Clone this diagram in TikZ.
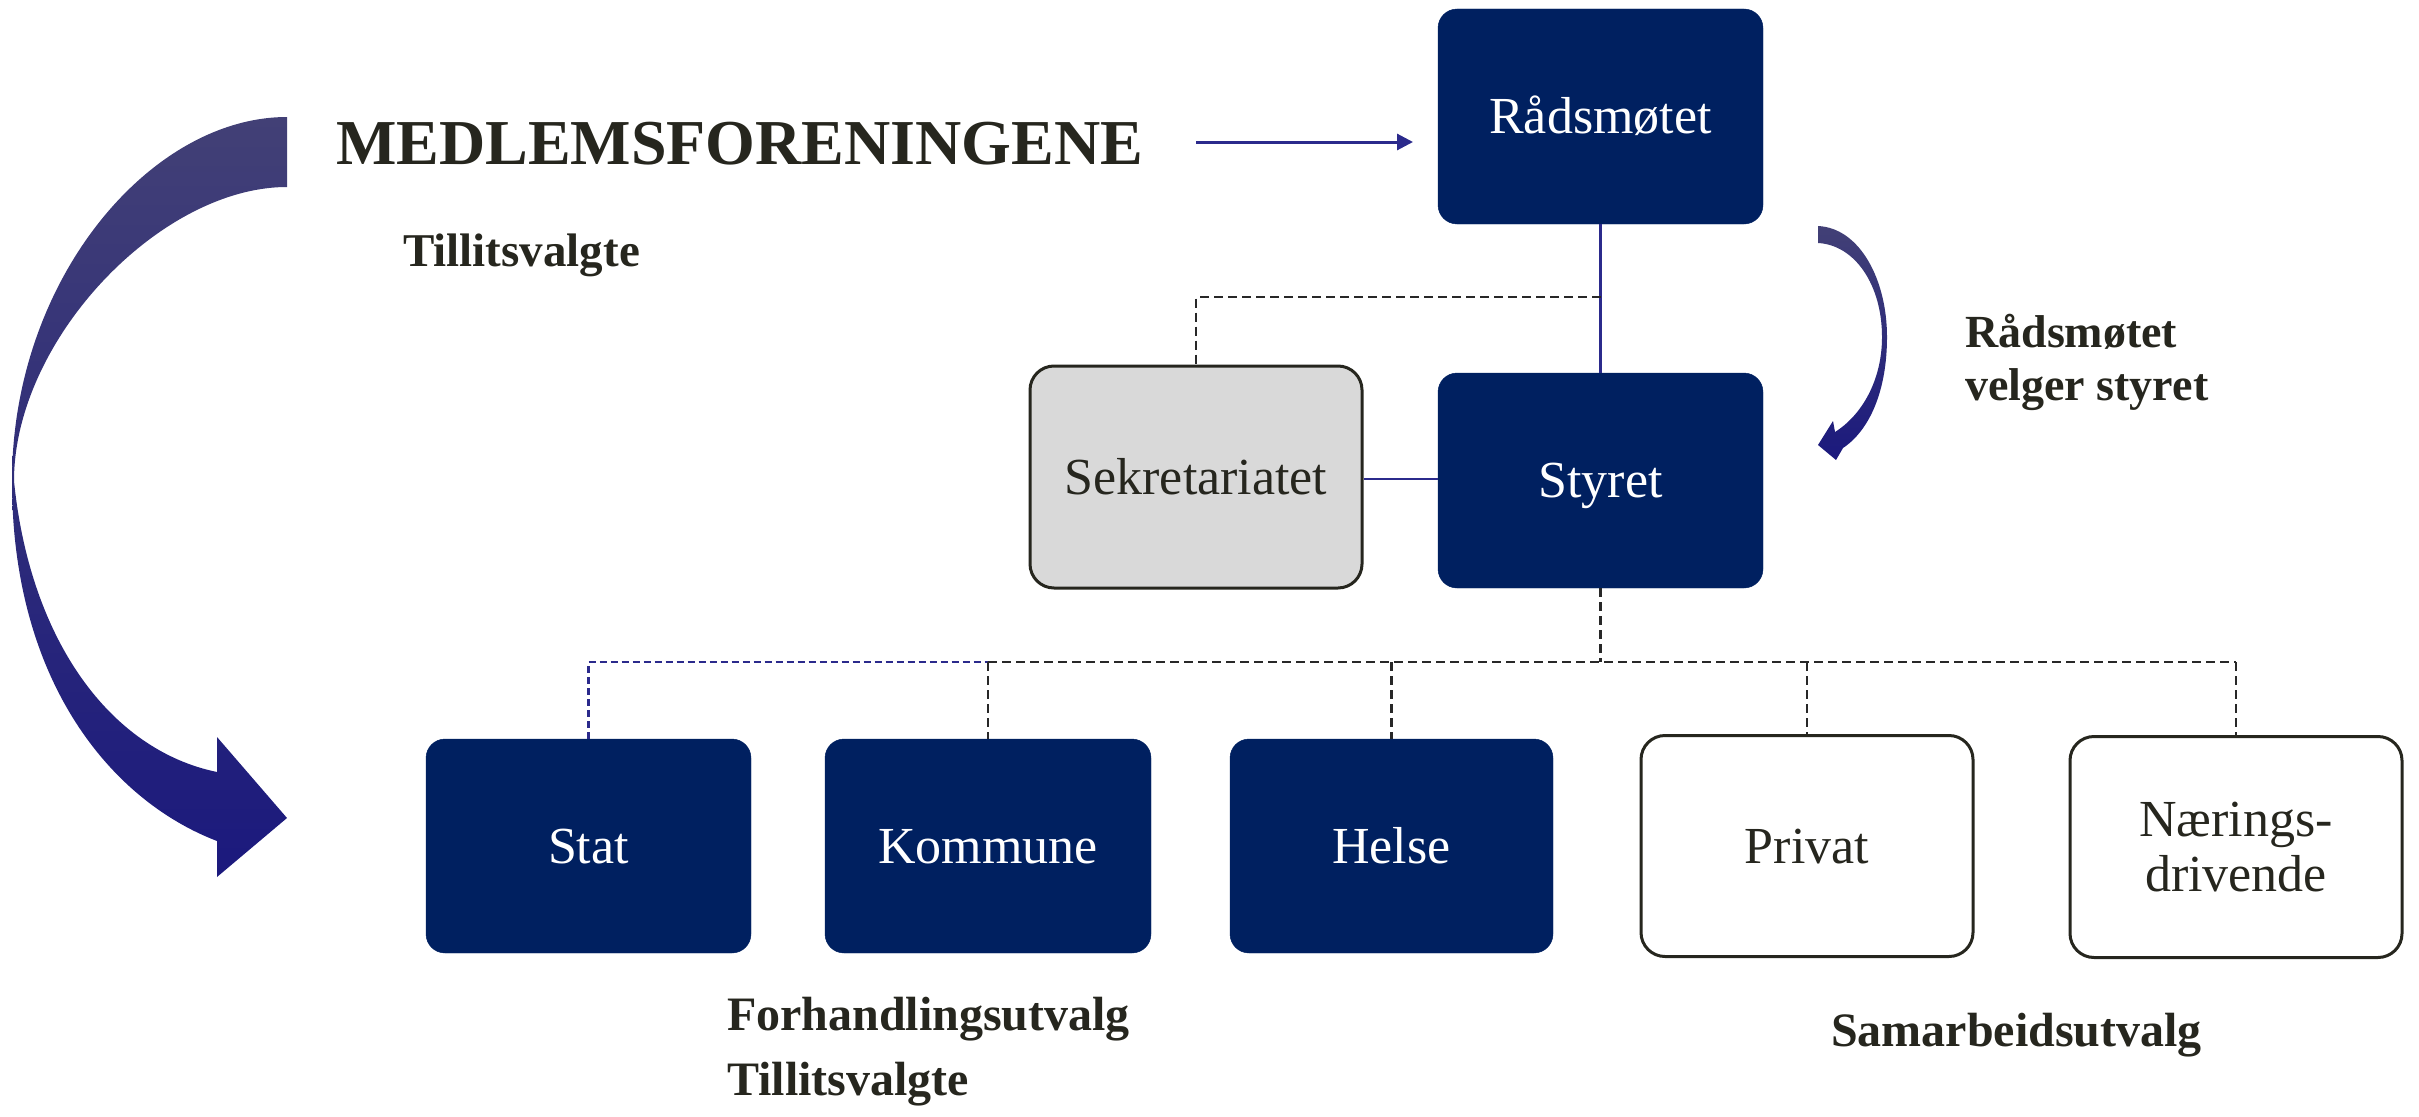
\documentclass[tikz,border=0pt]{standalone}
\usepackage{fontspec}
\setmainfont{Liberation Serif}
\usetikzlibrary{arrows.meta}
\definecolor{navy}{RGB}{0,32,96}
\definecolor{lineblue}{RGB}{43,42,140}
\definecolor{darktext}{RGB}{38,38,30}
\definecolor{darkline}{RGB}{40,40,40}
\definecolor{sekgray}{RGB}{217,217,217}
\definecolor{arrtop}{RGB}{66,64,118}
\definecolor{arrbot}{RGB}{27,25,125}
\tikzset{
  navybox/.style={rectangle, rounded corners=19pt, fill=navy, draw=navy, text=white,
    font=\fontsize{52}{56}\selectfont, text height=34pt, text depth=0pt, inner sep=0pt,
    minimum width=325pt, minimum height=215pt},
  whitebox/.style={rectangle, rounded corners=24pt, fill=white, draw=darktext, line width=3pt,
    text=darktext, font=\fontsize{52}{55}\selectfont, inner sep=0pt,
    minimum width=332pt, minimum height=221pt},
  boldlabel/.style={anchor=base west, inner sep=0pt, text=darktext,
    font=\bfseries\fontsize{47}{54}\selectfont},
  blueline/.style={draw=lineblue, line width=2.2pt},
  darkdash/.style={draw=darkline, line width=2.4pt, dash pattern=on 9pt off 5pt},
  bluedash/.style={draw=lineblue, line width=2.2pt, dash pattern=on 7pt off 4pt},
}
\begin{document}
\begin{tikzpicture}[x=1pt,y=-1pt]
\useasboundingbox (0,0) rectangle (2419,1116);

% big curved arrow (left)
\shade[top color=arrtop, bottom color=arrbot]
  (287,117) .. controls (150,117) and (12,280) .. (12,481)
  .. controls (12,680) and (110,800) .. (217,841)
  -- (217,877) -- (287,818) -- (217,737) -- (217,772)
  .. controls (110,750) and (30,640) .. (14,481)
  .. controls (14,340) and (160,187) .. (287,187) -- cycle;

% small curved arrow (right)
\shade[top color=arrtop, bottom color=arrbot]
  (1818,226) .. controls (1860,228) and (1887,280) .. (1887,337)
  .. controls (1887,390) and (1870,430) .. (1843,448)
  -- (1836,460) -- (1818,445) -- (1833,421) -- (1835,432)
  .. controls (1862,415) and (1882,380) .. (1882,337)
  .. controls (1882,285) and (1855,245) .. (1818,243) -- cycle;

% boxes
\node[navybox] (rad) at (1600.5,116.5) {Rådsmøtet};
\node[navybox] (styret) at (1600.5,480.5) {Styret};
\node[whitebox, fill=sekgray, minimum height=222pt, text height=35pt, text depth=0pt] (sek) at (1196,477) {Sekretariatet};
\node[navybox, minimum height=214pt] (stat) at (588.5,846) {Stat};
\node[navybox, minimum height=214pt, minimum width=326pt] (kommune) at (988,846) {Kommune};
\node[navybox, minimum height=214pt, minimum width=323pt] (helse) at (1391.5,846) {Helse};
\node[whitebox, text height=35pt, text depth=0pt] (privat) at (1807,846) {Privat};
\node[whitebox, align=center] (naering) at (2236,847) {Nærings-\\drivende};

% texts
\node[anchor=base west, inner sep=0pt, text=darktext, font=\bfseries\fontsize{64}{70}\selectfont] (medl) at (336,164) {MEDLEMSFORENINGENE};
\node[boldlabel] (tv1) at (403,266) {Tillitsvalgte};
\node[boldlabel, font=\bfseries\fontsize{46}{52}\selectfont] (rvs1) at (1965,347) {Rådsmøtet};
\node[boldlabel, font=\bfseries\fontsize{46}{52}\selectfont] (rvs2) at (1965,400) {velger styret};
\node[boldlabel, font=\bfseries\fontsize{48}{54}\selectfont] (forh) at (727,1030) {Forhandlingsutvalg};
\node[boldlabel, font=\bfseries\fontsize{48}{54}\selectfont] (tv2) at (727,1095) {Tillitsvalgte};
\node[boldlabel, font=\bfseries\fontsize{48}{54}\selectfont] (samb) at (1831,1046) {Samarbeidsutvalg};

% top arrow
\coordinate (a0) at (1196,142);
\coordinate (a1) at (1413,142);
\draw[blueline, line width=3pt, -{Triangle[length=16pt,width=16pt]}] (a0) -- (a1);

% connectors
\draw[blueline] (rad.south) -- (styret.north);
\coordinate (j1) at (1600.5,297);
\draw[darkdash] (j1) -| (sek.north);
\coordinate (s1) at (1362,479);
\draw[blueline] (sek.east |- s1) -- (styret.west |- s1);
\coordinate (j2) at (1600.5,662);
\draw[darkdash] (styret.south) -- (j2);
\coordinate (hk) at (kommune.north |- j2);
\coordinate (hn) at (naering.north |- j2);
\draw[bluedash] (stat.north) |- (hk);
\draw[darkdash] (hk) -- (hn);
\draw[darkdash] (hk) -- (kommune.north);
\draw[darkdash] (helse.north |- j2) -- (helse.north);
\draw[darkdash] (privat.north |- j2) -- (privat.north);
\draw[darkdash] (hn) -- (naering.north);
\end{tikzpicture}
\end{document}
